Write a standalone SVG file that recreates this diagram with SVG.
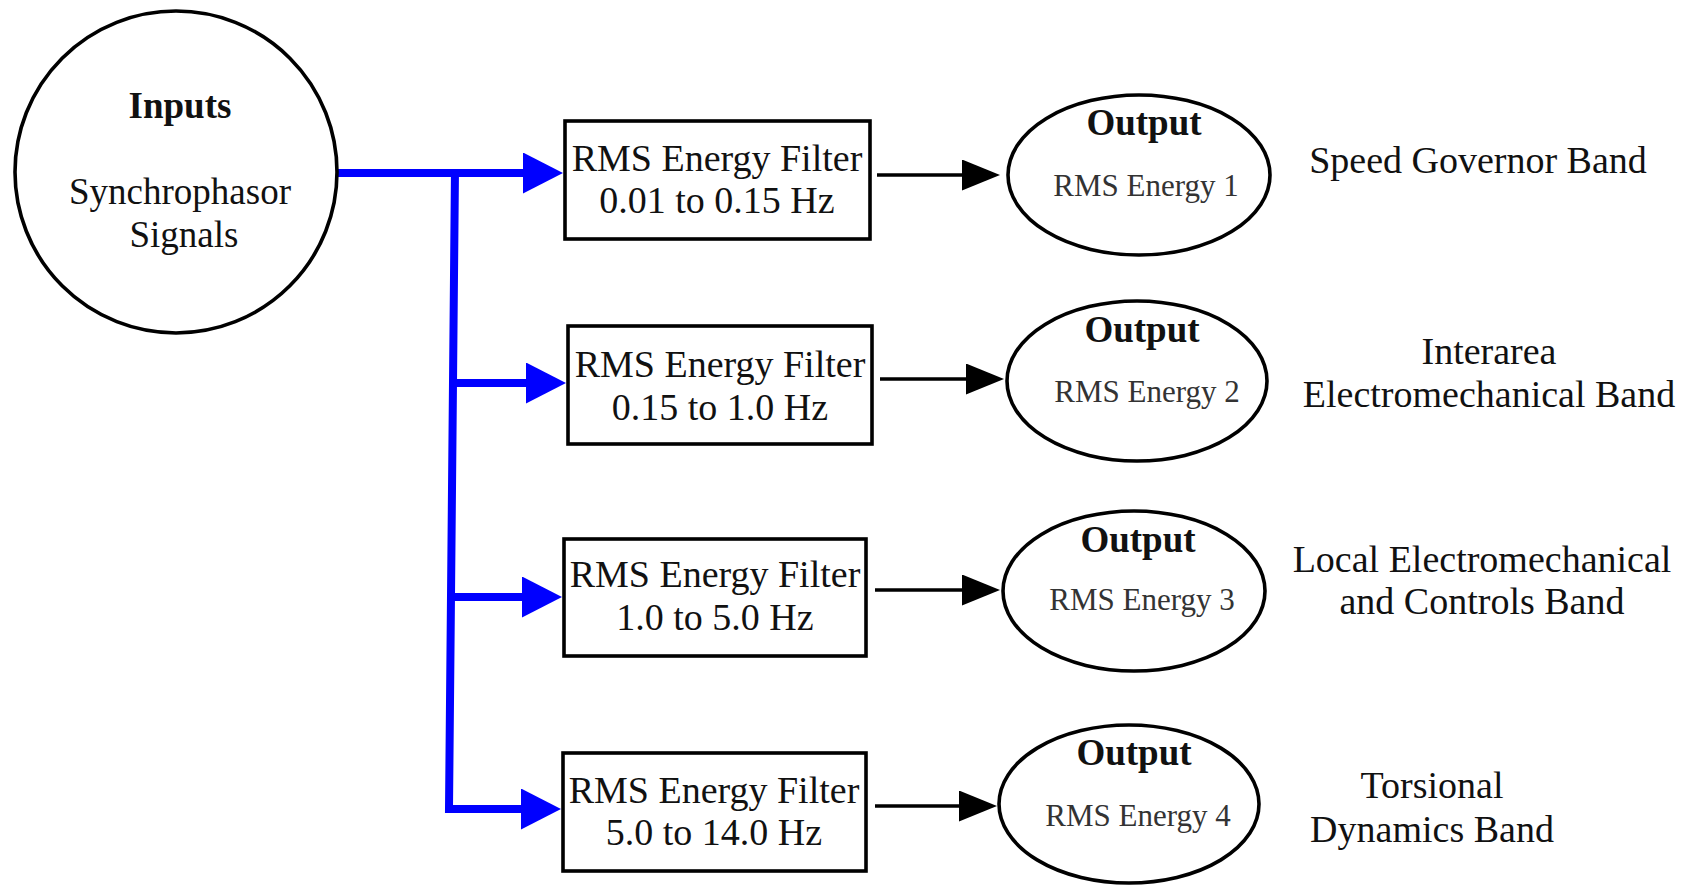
<svg xmlns="http://www.w3.org/2000/svg" width="1693" height="885" viewBox="0 0 1693 885" font-family="Liberation Serif, Times New Roman, Times, serif">
<defs>
<style>
.shape{fill:#fff;stroke:#000;stroke-width:3.6}
.t{fill:#111;text-anchor:middle}
.big{font-size:38px}
.circ{font-size:37px}
.inp{font-size:37px;font-weight:bold}
.out{font-size:37px;font-weight:bold}
.rms{font-size:31px;fill:#333}
.blue{fill:none;stroke:#0000ff;stroke-width:8;stroke-linejoin:miter}
.blk{fill:none;stroke:#000;stroke-width:3.5}
</style>
<marker id="bh" markerUnits="userSpaceOnUse" viewBox="0 0 40 41" refX="0" refY="20.5" markerWidth="40" markerHeight="41" orient="auto">
<path d="M0,0 L40,20.5 L0,41 Z" fill="#0000ff"/>
</marker>
<marker id="kh" markerUnits="userSpaceOnUse" viewBox="0 0 38 31" refX="0" refY="15.5" markerWidth="38" markerHeight="31" orient="auto">
<path d="M0,0 L38,15.5 L0,31 Z" fill="#000"/>
</marker>
</defs>
<rect width="1693" height="885" fill="#fff"/>

<g id="connectors">
<path class="blue" d="M337,173 H523" marker-end="url(#bh)"/>
<path class="blue" d="M455,169 L449,809 H521" marker-end="url(#bh)"/>
<path class="blue" d="M453,383 H526" marker-end="url(#bh)"/>
<path class="blue" d="M451,597 H522" marker-end="url(#bh)"/>
<path class="blk" d="M877,175 H962" marker-end="url(#kh)"/>
<path class="blk" d="M880,379 H966" marker-end="url(#kh)"/>
<path class="blk" d="M875,590 H962" marker-end="url(#kh)"/>
<path class="blk" d="M875,806 H959" marker-end="url(#kh)"/>
</g>

<g id="inputs">
<circle class="shape" cx="176" cy="172" r="161"/>
<text class="t inp" x="180" y="118">Inputs</text>
<text class="t circ" x="180" y="204">Synchrophasor</text>
<text class="t circ" x="184" y="247">Signals</text>
</g>

<g id="filter1">
<rect class="shape" x="565" y="121" width="305" height="118"/>
<text class="t big" x="717" y="171">RMS Energy Filter</text>
<text class="t big" x="717" y="213">0.01 to 0.15 Hz</text>
</g>
<g id="filter2">
<rect class="shape" x="568" y="326" width="304" height="118"/>
<text class="t big" x="720" y="377">RMS Energy Filter</text>
<text class="t big" x="720" y="420">0.15 to 1.0 Hz</text>
</g>
<g id="filter3">
<rect class="shape" x="564" y="539" width="302" height="117"/>
<text class="t big" x="715" y="587">RMS Energy Filter</text>
<text class="t big" x="715" y="630">1.0 to 5.0 Hz</text>
</g>
<g id="filter4">
<rect class="shape" x="563" y="753" width="303" height="118"/>
<text class="t big" x="714" y="803">RMS Energy Filter</text>
<text class="t big" x="714" y="845">5.0 to 14.0 Hz</text>
</g>

<g id="output1">
<ellipse class="shape" cx="1139" cy="175" rx="131" ry="80"/>
<text class="t out" x="1144" y="135">Output</text>
<text class="t rms" x="1146" y="196">RMS Energy 1</text>
</g>
<g id="output2">
<ellipse class="shape" cx="1137" cy="381" rx="130" ry="80"/>
<text class="t out" x="1142" y="342">Output</text>
<text class="t rms" x="1147" y="402">RMS Energy 2</text>
</g>
<g id="output3">
<ellipse class="shape" cx="1134" cy="591" rx="131" ry="80"/>
<text class="t out" x="1138" y="552">Output</text>
<text class="t rms" x="1142" y="610">RMS Energy 3</text>
</g>
<g id="output4">
<ellipse class="shape" cx="1129" cy="804" rx="130" ry="79"/>
<text class="t out" x="1134" y="765">Output</text>
<text class="t rms" x="1138" y="826">RMS Energy 4</text>
</g>

<g id="label1">
<text class="t big" x="1478" y="173">Speed Governor Band</text>
</g>
<g id="label2">
<text class="t big" x="1489" y="364">Interarea</text>
<text class="t big" x="1489" y="407">Electromechanical Band</text>
</g>
<g id="label3">
<text class="t big" x="1482" y="572">Local Electromechanical</text>
<text class="t big" x="1482" y="614">and Controls Band</text>
</g>
<g id="label4">
<text class="t big" x="1432" y="798">Torsional</text>
<text class="t big" x="1432" y="842">Dynamics Band</text>
</g>
</svg>
